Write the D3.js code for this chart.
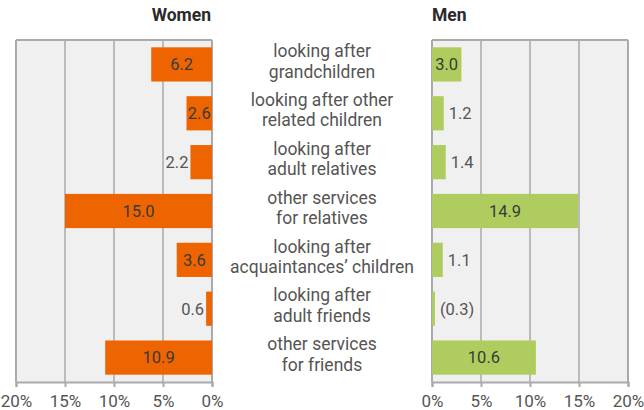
<!DOCTYPE html>
<html>
<head>
<meta charset="utf-8">
<script src="https://cdn.jsdelivr.net/npm/d3@7"></script>
<style>
  body { margin: 0; background: #fff; }
  text { font-family: Roboto, "Noto Sans", sans-serif; }
</style>
</head>
<body>
<div id="chart"></div>
<script>
'use strict';

var categories = [
  ['looking after', 'grandchildren'],
  ['looking after other', 'related children'],
  ['looking after', 'adult relatives'],
  ['other services', 'for relatives'],
  ['looking after', 'acquaintances\u2019 children'],
  ['looking after', 'adult friends'],
  ['other services', 'for friends']
];
var women = [6.2, 2.6, 2.2, 15.0, 3.6, 0.6, 10.9];
var men = [3.0, 1.2, 1.4, 14.9, 1.1, 0.3, 10.6];
var womenLabels = ['6.2', '2.6', '2.2', '15.0', '3.6', '0.6', '10.9'];
var menLabels = ['3.0', '1.2', '1.4', '14.9', '1.1', '(0.3)', '10.6'];
var ticks = [0, 5, 10, 15, 20];

var width = 644, height = 410;
var plotTop = 40, plotBottom = 382;

var svg = d3.select('#chart').append('svg')
    .attr('width', width)
    .attr('height', height);

var y = d3.scaleBand()
    .domain(d3.range(categories.length))
    .range([plotTop, plotBottom])
    .paddingInner(0.3)
    .paddingOuter(0.15);

var xWomen = d3.scaleLinear().domain([20, 0]).range([16, 212]);
var xMen = d3.scaleLinear().domain([0, 20]).range([432, 628]);

function panel(x, values, labels, color, title, side) {
  var g = svg.append('g');
  var r = x.range(), x0 = Math.min(r[0], r[1]), x1 = Math.max(r[0], r[1]);

  g.append('rect')
      .attr('x', x0).attr('y', plotTop)
      .attr('width', x1 - x0).attr('height', plotBottom - plotTop)
      .attr('fill', '#f0f0f0');

  g.selectAll('.grid').data(ticks).enter().append('line')
      .attr('x1', function (d) { return x(d); })
      .attr('x2', function (d) { return x(d); })
      .attr('y1', plotTop).attr('y2', plotBottom)
      .attr('stroke', function (d) { return (d === 0 || d === 20) ? '#aaa' : '#bbb'; })
      .attr('stroke-width', 2);

  g.append('line')
      .attr('x1', x0).attr('x2', x1)
      .attr('y1', plotTop).attr('y2', plotTop)
      .attr('stroke', '#aaa').attr('stroke-width', 2);

  g.selectAll('.bar').data(values).enter().append('rect')
      .attr('x', function (d) { return Math.min(x(0), x(d)); })
      .attr('y', function (d, i) { return y(i); })
      .attr('width', function (d) { return Math.abs(x(d) - x(0)); })
      .attr('height', y.bandwidth())
      .attr('fill', color);

  g.selectAll('.val').data(values).enter().append('text')
      .text(function (d, i) { return labels[i]; })
      .attr('y', function (d, i) { return y(i) + y.bandwidth() / 2 + 5.8; })
      .attr('font-size', 16.5)
      .each(function (d) {
        var t = d3.select(this);
        var w = this.getComputedTextLength();
        var bw = Math.abs(x(d) - x(0));
        if (w <= bw) {
          t.attr('x', (x(d) + x(0)) / 2).attr('text-anchor', 'middle').attr('fill', '#3a3a3a');
        } else if (side === 'left') {
          t.attr('x', x(d) - 2).attr('text-anchor', 'end').attr('fill', '#555');
        } else {
          t.attr('x', x(d) + 5).attr('text-anchor', 'start').attr('fill', '#555');
        }
      });

  var axis = g.append('g')
      .attr('transform', 'translate(0,' + plotBottom + ')')
      .call(d3.axisBottom(x).tickValues(ticks).tickSize(5).tickPadding(8)
        .tickFormat(function (d) { return d + '%'; }));
  axis.select('.domain').attr('stroke', '#aaa').attr('stroke-width', 2);
  axis.selectAll('.tick line').attr('stroke', '#aaa').attr('stroke-width', 2);
  axis.selectAll('.tick text')
      .attr('font-size', 17)
      .attr('font-family', 'Roboto, sans-serif')
      .attr('fill', '#555');

  g.append('text')
      .text(title)
      .attr('x', side === 'left' ? x1 - 1 : x0)
      .attr('y', 21)
      .attr('text-anchor', side === 'left' ? 'end' : 'start')
      .attr('font-size', 17.5)
      .attr('font-weight', 'bold')
      .attr('fill', '#2a2a2a');
}

panel(xWomen, women, womenLabels, '#ee6400', 'Women', 'left');
panel(xMen, men, menLabels, '#aecd5e', 'Men', 'right');

var cat = svg.append('g').selectAll('text').data(categories).enter().append('text')
    .attr('text-anchor', 'middle')
    .attr('font-size', 17.5)
    .attr('fill', '#555');
cat.each(function (d, i) {
  var c = y(i) + y.bandwidth() / 2;
  d3.select(this).selectAll('tspan').data(d).enter().append('tspan')
      .attr('x', 322)
      .attr('y', function (s, j) { return c - 7.3 + j * 20.5; })
      .text(function (s) { return s; });
});
</script>
</body>
</html>
